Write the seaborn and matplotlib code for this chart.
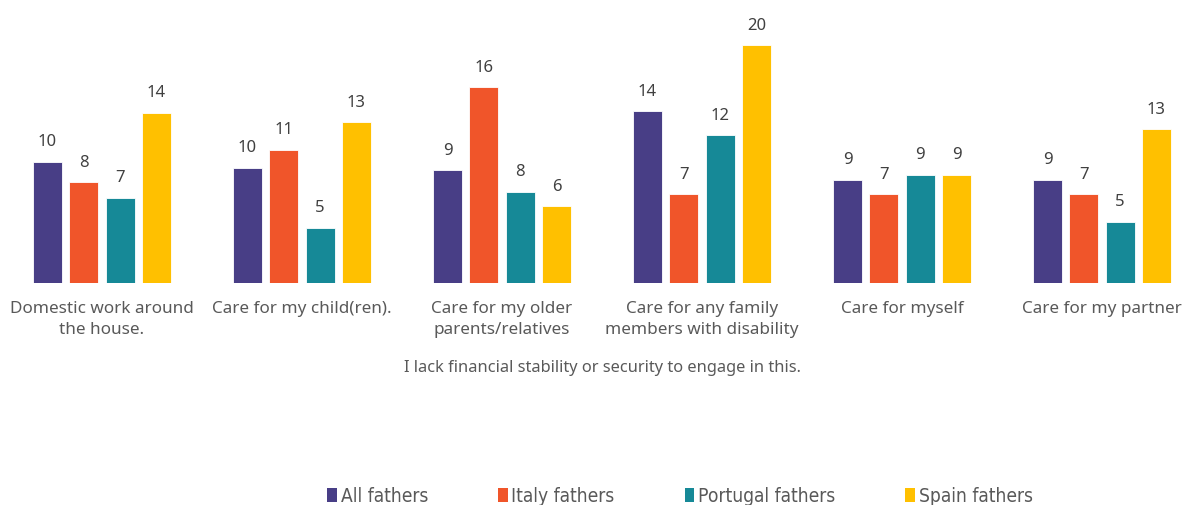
import matplotlib
matplotlib.use("Agg")
import matplotlib.pyplot as plt
from matplotlib.patches import Patch
import pandas as pd
import seaborn as sns

# Share (%) of fathers naming each activity
categories = [
    "Domestic work around\nthe house.",
    "Care for my child(ren).",
    "Care for my older\nparents/relatives",
    "Care for any family\nmembers with disability",
    "Care for myself",
    "Care for my partner",
]
groups = ["All fathers", "Italy fathers", "Portugal fathers", "Spain fathers"]
all_fathers = [10.1, 9.6, 9.4, 14.3, 8.6, 8.6]
italy_fathers = [8.4, 11.1, 16.3, 7.4, 7.4, 7.4]
portugal_fathers = [7.1, 4.6, 7.6, 12.3, 9.0, 5.1]
spain_fathers = [14.2, 13.4, 6.4, 19.8, 9.0, 12.8]
colors = ["#483E86", "#F0552A", "#168997", "#FFC000"]
axis_title = "I lack financial stability or security to engage in this."

series = [all_fathers, italy_fathers, portugal_fathers, spain_fathers]
df = pd.DataFrame(
    [(c, g, v) for g, vals in zip(groups, series) for c, v in zip(categories, vals)],
    columns=["category", "group", "value"],
)

sns.set_theme(style="white")
plt.rcParams["font.family"] = ["Noto Sans", "DejaVu Sans"]

W, H = 1182, 506
fig = plt.figure(figsize=(W / 100, H / 100), dpi=100)
# axes spans 1200 px horizontally (6 slots of 200 px), baseline at y=284 px
ax = fig.add_axes([2 / W, (H - 284) / H, 1200 / W, 264 / H])

sns.barplot(
    data=df, x="category", y="value", hue="group", order=categories,
    hue_order=groups, palette=colors, saturation=1, width=0.726, gap=0.2,
    edgecolor="white", linewidth=0.6, legend=False, ax=ax, errorbar=None,
)

for cont in ax.containers:
    ax.bar_label(cont, fmt="{:.0f}", padding=9, fontsize=12, color="#404040")

ax.set_ylim(0, 22)
ax.set_xlim(-0.5, 5.5)
ax.set_yticks([])
ax.set_ylabel("")
for s in ax.spines.values():
    s.set_visible(False)
ax.tick_params(axis="x", length=0, pad=12, labelsize=12.3, labelcolor="#595959")
for lbl in ax.get_xticklabels():
    lbl.set_linespacing(1.45)
ax.set_xlabel(axis_title, fontsize=11.8, color="#595959", labelpad=16)

handles = [Patch(facecolor=c, edgecolor="none") for c in colors]
fig.legend(
    handles, groups, loc="center", bbox_to_anchor=(680 / W, 1 - 497 / H),
    ncol=4, frameon=False, handlelength=0.5, handleheight=0.7,
    handletextpad=0.2, columnspacing=3.65,
    prop={"family": "DejaVu Sans", "stretch": "condensed", "size": 13.8},
    labelcolor="#595959",
)

fig.savefig("out.png", dpi=100, facecolor="white")
